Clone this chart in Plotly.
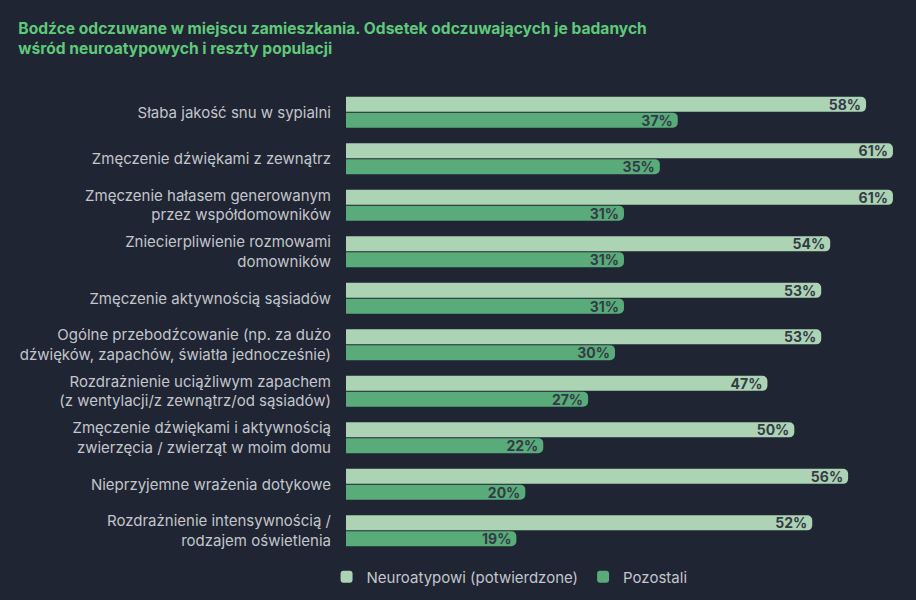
import plotly.graph_objects as go

categories = [
    "Słaba jakość snu w sypialni",
    "Zmęczenie dźwiękami z zewnątrz",
    "Zmęczenie hałasem generowanym<br>przez współdomowników",
    "Zniecierpliwienie rozmowami<br>domowników",
    "Zmęczenie aktywnością sąsiadów",
    "Ogólne przebodźcowanie (np. za dużo<br>dźwięków, zapachów, światła jednocześnie)",
    "Rozdrażnienie uciążliwym zapachem<br>(z wentylacji/z zewnątrz/od sąsiadów)",
    "Zmęczenie dźwiękami i aktywnością<br>zwierzęcia / zwierząt w moim domu",
    "Nieprzyjemne wrażenia dotykowe",
    "Rozdrażnienie intensywnością /<br>rodzajem oświetlenia",
]
neuro = [58, 61, 61, 54, 53, 53, 47, 50, 56, 52]
others = [37, 35, 31, 31, 31, 30, 27, 22, 20, 19]

BG = "#1f2533"
LIGHT = "#acd3b4"
DARK = "#59ab79"
TXT = "#343b47"

fig = go.Figure()
fig.add_trace(go.Bar(
    y=categories, x=neuro, orientation="h", name="Neuroatypowi (potwierdzone)",
    marker=dict(color=LIGHT, cornerradius=5, line=dict(width=0)),
    text=[f"{v}%" for v in neuro], textposition="inside", insidetextanchor="end",
    textfont=dict(color=TXT, size=14, family="Inter", weight="bold"),
    hoverinfo="skip",
))
fig.add_trace(go.Bar(
    y=categories, x=others, orientation="h", name="Pozostali",
    marker=dict(color=DARK, cornerradius=5, line=dict(width=0)),
    text=[f"{v}%" for v in others], textposition="inside", insidetextanchor="end",
    textfont=dict(color=TXT, size=14, family="Inter", weight="bold"),
    hoverinfo="skip",
))

fig.update_layout(
    width=916, height=600,
    paper_bgcolor=BG, plot_bgcolor=BG,
    barmode="group", bargap=0.32, bargroupgap=0.05,
    margin=dict(l=346, r=6, t=89, b=46, autoexpand=False),
    title=dict(
        text="Bodźce odczuwane w miejscu zamieszkania. Odsetek odczuwających je badanych<br>wśród neuroatypowych i reszty populacji",
        x=0.02, xanchor="left", y=0.944, yanchor="top",
        font=dict(family="Inter", size=15.6, color="#5fc97a", weight="bold"),
    ),
    font=dict(family="Inter", color="#c3c6cb", size=15),
    xaxis=dict(range=[0, 62.9], visible=False, fixedrange=True),
    yaxis=dict(autorange="reversed", showgrid=False, zeroline=False, showline=False,
               ticks="", ticklabelstandoff=14, fixedrange=True,
               tickfont=dict(size=15, color="#c3c6cb", family="Inter")),
    legend=dict(orientation="h", x=0.29, xanchor="center",
                yref="container", y=0.0383, yanchor="middle",
                font=dict(size=15, color="#c3c6cb"), itemwidth=30, traceorder="normal"),
    uniformtext=dict(mode="show", minsize=10),
)

fig.write_html("out.html", config={"displayModeBar": False},
               post_script="document.body.style.margin='0';")
